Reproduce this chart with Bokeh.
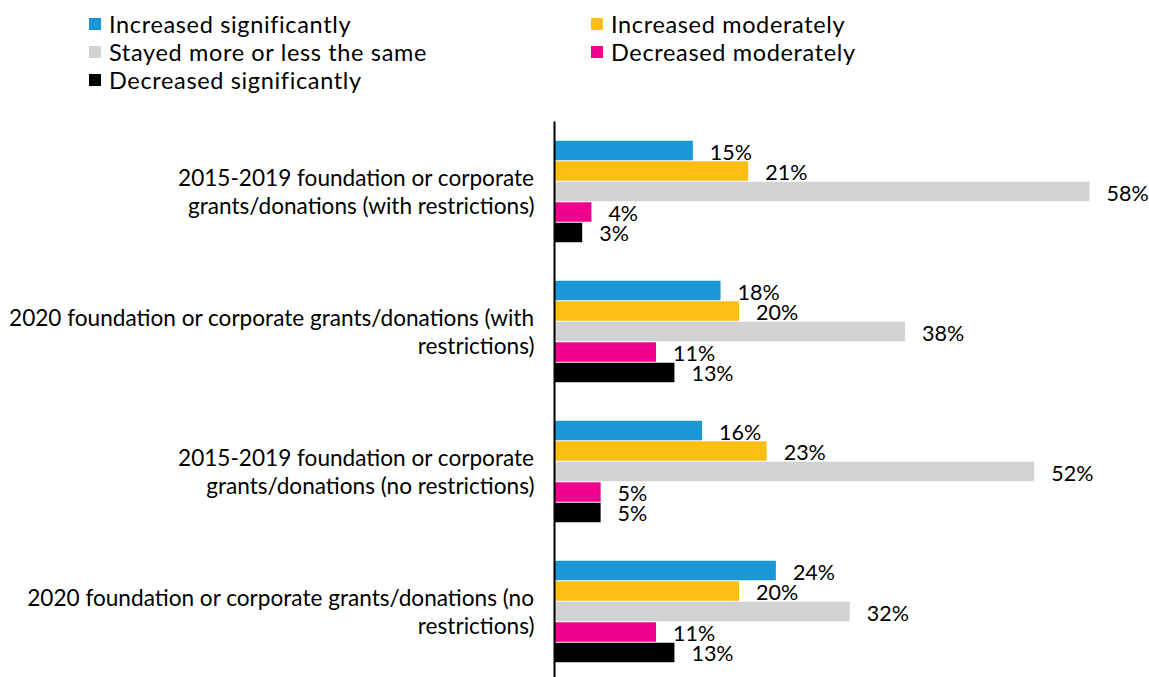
from bokeh.plotting import figure
from bokeh.layouts import column
from bokeh.models import Range1d, FixedTicker, ColumnDataSource, Div
from bokeh.transform import dodge
from bokeh.core.properties import value
from bokeh.embed import file_html
from bokeh.resources import INLINE

categories = [
    "2015-2019 foundation or corporate\ngrants/donations (with restrictions)",
    "2020 foundation or corporate grants/donations (with\nrestrictions)",
    "2015-2019 foundation or corporate\ngrants/donations (no restrictions)",
    "2020 foundation or corporate grants/donations (no\nrestrictions)",
]
series = [
    "Increased significantly",
    "Increased moderately",
    "Stayed more or less the same",
    "Decreased moderately",
    "Decreased significantly",
]
increased_significantly = [15, 18, 16, 24]
increased_moderately = [21, 20, 23, 20]
stayed_same = [58, 38, 52, 32]
decreased_moderately = [4, 11, 5, 11]
decreased_significantly = [3, 13, 5, 13]
colors = ["#1a98d5", "#fdbe14", "#d2d2d2", "#ec008c", "#000000"]

values_list = [increased_significantly, increased_moderately, stayed_same,
               decreased_moderately, decreased_significantly]
cols = ["s0", "s1", "s2", "s3", "s4"]

data = {"y": list(range(len(categories)))}
for c, vals in zip(cols, values_list):
    data[c] = vals
    data[c + "_lbl"] = [f"{v}%" for v in vals]
source = ColumnDataSource(data)

FONT = "Lato"

# ---- legend (HTML strip above the chart, two columns) ----
items_html = []
for i, (s, col) in enumerate(zip(series, colors)):
    row, cidx = divmod(i, 2)
    left = 89 + cidx * 502
    top = 10 + row * 28
    items_html.append(
        f'<div style="position:absolute;left:{left}px;top:{top}px;height:28px;'
        f'display:flex;align-items:center;white-space:nowrap;">'
        f'<span style="display:inline-block;width:12px;height:12px;background:{col};'
        f'margin-right:8px;"></span>'
        f'<span style="font-family:Lato;font-size:23.5px;letter-spacing:0.65px;'
        f'color:#000000;line-height:28px;">{s}</span></div>'
    )
legend_html = ('<div style="position:relative;width:1149px;height:121px;">'
               + "".join(items_html) + "</div>")
legend_div = Div(text=legend_html, width=1149, height=121, margin=0)

# ---- main chart ----
p = figure(width=1149, height=556, output_backend="svg", toolbar_location=None,
           x_range=Range1d(0, 64.5), y_range=Range1d(start=3.4714, end=-0.5),
           min_border_left=554, min_border_right=0, min_border_top=0,
           min_border_bottom=0, outline_line_color=None)

pitch = 0.1464
offsets = [-2 * pitch, -pitch, 0, pitch, 2 * pitch]
for c, col, off in zip(cols, colors, offsets):
    p.hbar(y=dodge("y", off), right=c, left=0, height=0.139, source=source,
           fill_color=col, line_color=None)
    p.text(x=c, y=dodge("y", off), text=c + "_lbl", source=source,
           x_offset=17, y_offset=1, text_baseline="middle", text_align="left",
           text_font=value(FONT), text_font_size="21.5px", text_color="#000000")

p.xaxis.visible = False
p.xgrid.visible = False
p.ygrid.visible = False

ya = p.yaxis[0]
ya.ticker = FixedTicker(ticks=list(range(len(categories))))
ya.major_label_overrides = {i: lab for i, lab in enumerate(categories)}
ya.major_tick_line_color = None
ya.minor_tick_line_color = None
ya.axis_line_color = "#000000"
ya.axis_line_width = 2
ya.major_label_standoff = 14
ya.major_label_text_font = FONT
ya.major_label_text_font_size = "22.6px"
ya.major_label_text_color = "#000000"
ya.major_label_text_line_height = 1.03

layout = column(legend_div, p, spacing=0)
open("out.html", "w").write(file_html(layout, INLINE))
